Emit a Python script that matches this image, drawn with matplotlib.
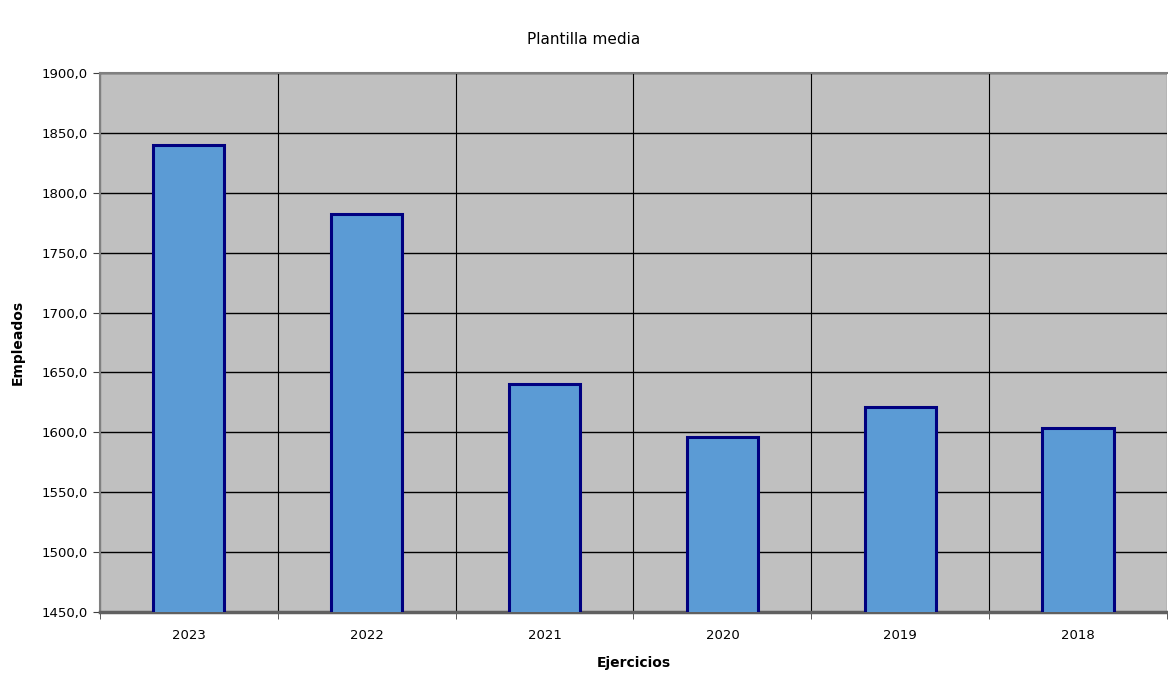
import numpy as np
import matplotlib.pyplot as plt
from matplotlib.ticker import FixedLocator, FuncFormatter

plt.rcParams['font.family'] = ['DejaVu Sans']

years = ["2023", "2022", "2021", "2020", "2019", "2018"]
employees = [1839.5, 1782.0, 1640.0, 1596.0, 1621.0, 1603.5]

fig = plt.figure(figsize=(11.68, 6.75), dpi=100)
ax = fig.add_axes([0.0856, 0.0933, 0.9135, 0.7986])
ax.set_facecolor('#c0c0c0')

x = np.arange(len(years))
ax.bar(x, employees, width=0.4, color='#5b9bd5', edgecolor='#000080', linewidth=2.2, zorder=3)

ax.set_xlim(-0.5, len(years) - 0.5)
ax.set_ylim(1450, 1900)
ax.set_yticks(np.arange(1450, 1901, 50))
ax.yaxis.set_major_formatter(FuncFormatter(lambda v, p: f"{v:.1f}".replace('.', ',')))

# category labels in the middle, ticks and vertical grid on the boundaries
ax.set_xticks(x)
ax.set_xticklabels(years)
ax.xaxis.set_minor_locator(FixedLocator(np.arange(-0.5, len(years), 1.0)))
ax.tick_params(axis='x', which='major', length=0, pad=12, labelsize=9.5)
ax.tick_params(axis='x', which='minor', length=5, color='#404040')
ax.tick_params(axis='y', length=5, color='#404040', labelsize=9.5, pad=4)

ax.grid(axis='y', color='black', linewidth=1.0, zorder=1)
ax.grid(axis='x', which='minor', color='black', linewidth=0.8, zorder=1)
ax.set_axisbelow(True)

for side in ['top', 'left']:
    ax.spines[side].set_color('#808080')
    ax.spines[side].set_linewidth(1.5)
ax.spines['bottom'].set_color('#606060')
ax.spines['bottom'].set_linewidth(2.5)
ax.spines['right'].set_visible(False)

ax.set_xlabel("Ejercicios", fontsize=10, fontweight='bold', labelpad=10)
ax.set_ylabel("Empleados", fontsize=10, fontweight='bold', labelpad=12)
fig.suptitle("Plantilla media", fontsize=11, x=0.5, y=0.952)

fig.savefig("out.png", dpi=100)
